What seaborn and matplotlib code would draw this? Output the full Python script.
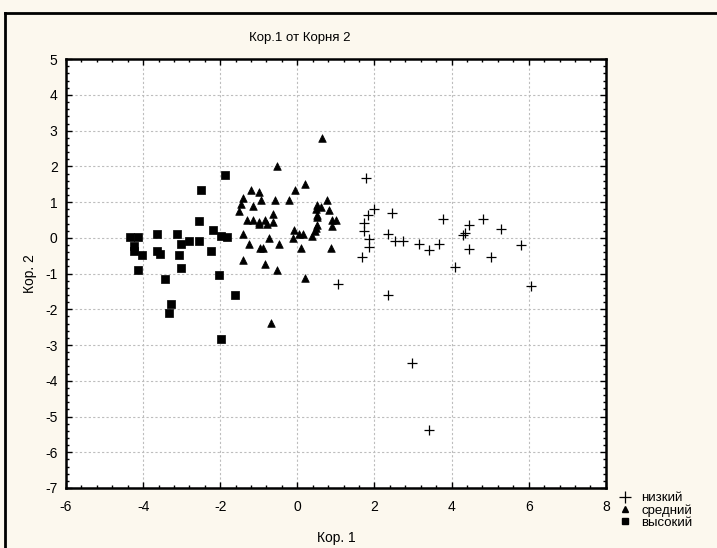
import pandas as pd
import seaborn as sns
import matplotlib.pyplot as plt
from matplotlib.ticker import MultipleLocator, AutoMinorLocator
from matplotlib.lines import Line2D

# низкий (+)
low_x = [1.77, 1.98, 1.82, 2.46, 1.72, 1.72, 1.87, 1.87, 1.67, 2.34, 2.54, 2.75, 3.16,
         3.42, 3.68, 3.78, 4.09, 4.30, 4.35, 4.45, 4.45, 4.81, 5.02, 1.05, 2.34, 5.27,
         5.79, 6.05, 2.96, 3.42]
low_y = [1.68, 0.81, 0.64, 0.70, 0.42, 0.20, -0.03, -0.25, -0.53, 0.10, -0.10, -0.10, -0.16,
         -0.33, -0.16, 0.53, -0.81, 0.08, 0.14, 0.36, -0.31, 0.53, -0.53, -1.28, -1.59, 0.24,
         -0.20, -1.36, -3.50, -5.39]

# средний (triangles)
mid_x = [0.65, -0.53, 0.19, -0.07, -1.20, -1.00, -1.41, -0.95, -0.59, -0.22, -1.46, -1.15,
         -1.51, -0.64, -1.31, -1.15, -1.00, -1.00, -0.84, -0.79, -0.64, -1.41, -1.26, -0.96,
         -0.89, -0.74, -0.48, -1.41, -0.84, -0.53, -0.69, 0.19, -0.09, -0.12, 0.03, 0.14,
         0.09, 0.39, 0.86, 0.76, 0.52, 0.62, 0.48, 0.81, 0.50, 0.50, 0.50, 0.48, 0.46,
         0.89, 1.01, 0.91]
mid_y = [2.80, 2.01, 1.52, 1.34, 1.34, 1.28, 1.11, 1.06, 1.06, 1.06, 0.96, 0.89,
         0.74, 0.67, 0.50, 0.50, 0.45, 0.38, 0.50, 0.39, 0.45, 0.11, -0.17, -0.28,
         -0.28, 0.00, -0.17, -0.61, -0.73, -0.89, -2.39, -1.11, 0.22, 0.00, 0.11, 0.11,
         -0.28, 0.04, -0.28, 1.07, 0.92, 0.87, 0.81, 0.79, 0.64, 0.57, 0.36, 0.27, 0.20,
         0.51, 0.51, 0.33]

# высокий (squares)
high_x = [-1.87, -2.49, -2.54, -2.19, -1.98, -1.82, -4.35, -4.14, -3.63, -3.11, -4.24, -4.24,
          -4.04, -3.63, -3.57, -3.01, -2.81, -2.54, -3.07, -2.24, -4.14, -3.01, -3.42, -2.03,
          -1.62, -3.27, -3.32, -1.98]
high_y = [1.75, 1.34, 0.46, 0.22, 0.06, 0.01, 0.01, 0.01, 0.12, 0.12, -0.22, -0.38,
          -0.49, -0.38, -0.45, -0.17, -0.10, -0.10, -0.49, -0.38, -0.89, -0.83, -1.16, -1.05,
          -1.61, -1.84, -2.11, -2.83]

labels = ["низкий", "средний", "высокий"]

low = pd.DataFrame({"x": low_x, "y": low_y})
mid = pd.DataFrame({"x": mid_x, "y": mid_y})
high = pd.DataFrame({"x": high_x, "y": high_y})

bg = "#fcf8ee"
plt.rcParams["font.family"] = ["Liberation Sans", "DejaVu Sans"]
plt.rcParams["axes.unicode_minus"] = False

fig = plt.figure(figsize=(7.17, 5.48), dpi=100, facecolor=bg)
ax = fig.add_axes([0.092, 0.1095, 0.753, 0.7825])
ax.set_facecolor("white")

sns.scatterplot(data=low, x="x", y="y", marker="+", color="black", s=60,
                linewidth=0.9, ax=ax, zorder=3)
sns.scatterplot(data=mid, x="x", y="y", marker="^", color="black", s=30,
                edgecolor="black", linewidth=0.5, ax=ax, zorder=3)
sns.scatterplot(data=high, x="x", y="y", marker="s", color="black", s=28,
                edgecolor="black", linewidth=0.5, ax=ax, zorder=3)

ax.set_xlim(-6, 8)
ax.set_ylim(-7, 5)
ax.xaxis.set_major_locator(MultipleLocator(2))
ax.yaxis.set_major_locator(MultipleLocator(1))
ax.xaxis.set_minor_locator(AutoMinorLocator(5))
ax.yaxis.set_minor_locator(AutoMinorLocator(5))
ax.grid(which="major", color="#bdbdbd", linestyle=(0, (2, 2)), linewidth=0.8, zorder=0)
ax.set_axisbelow(True)
ax.tick_params(which="both", direction="in", top=True, right=True, labelsize=10,
               colors="black")
ax.tick_params(which="major", length=4, width=1)
ax.tick_params(which="minor", length=2, width=1)
ax.tick_params(axis="x", which="major", pad=9)
ax.tick_params(axis="y", which="major", pad=6)
for sp in ax.spines.values():
    sp.set_linewidth(1.8)
    sp.set_color("black")

ax.set_xlabel("Кор. 1", fontsize=10, labelpad=12)
ax.set_ylabel("Кор. 2", fontsize=10, labelpad=6)
fig.text(0.418, 0.93, "Кор.1 от Корня 2", fontsize=9.5, ha="center", va="center")

handles = [
    Line2D([], [], marker="+", color="black", linestyle="none", markersize=8, markeredgewidth=0.9),
    Line2D([], [], marker="^", color="black", linestyle="none", markersize=5),
    Line2D([], [], marker="s", color="black", linestyle="none", markersize=5),
]
fig.legend(handles, labels, loc="upper left", bbox_to_anchor=(0.85, 0.114),
           frameon=False, fontsize=9.5, handletextpad=0.5, labelspacing=0.0,
           handlelength=1.4, borderpad=0)

# figure frame
fig.add_artist(Line2D([5 / 717, 5 / 717], [0, 1 - 13 / 548], transform=fig.transFigure,
                      color="black", linewidth=2))
fig.add_artist(Line2D([5 / 717, 1], [1 - 13 / 548, 1 - 13 / 548], transform=fig.transFigure,
                      color="black", linewidth=2))

fig.savefig("out.png", dpi=100, facecolor=bg)
